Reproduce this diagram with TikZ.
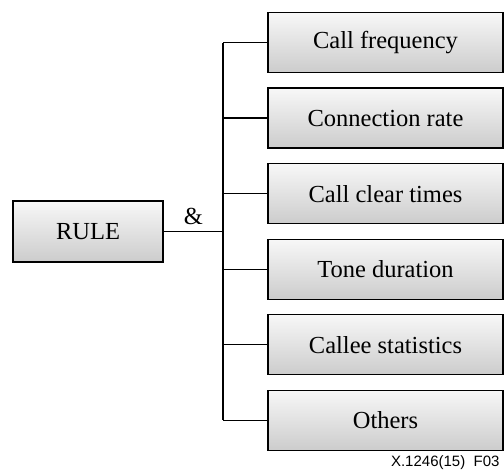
\documentclass[tikz,border=0pt]{standalone}
\usepackage{fontspec}
\setmainfont{Liberation Serif}
\newfontfamily\tagfont{Liberation Sans}
\usetikzlibrary{positioning}
\definecolor{boxtop}{gray}{0.97}
\definecolor{boxbot}{gray}{0.80}
\tikzstyle{block} = [rectangle, draw, line width=1.4pt, top color=boxtop, bottom color=boxbot, text centered, minimum width = 235pt, minimum height = 60pt, font=\fontsize{24.5}{29}\selectfont]
\tikzstyle{link} = [line width=1.3pt]

\begin{document}
\begin{tikzpicture}[x=1pt, y=1pt]
				\useasboundingbox (0,0) rectangle (504,-470);
				\node[block, minimum width=150pt, minimum height=61pt] (rule) at (88,-231.5) {RULE};
				\node[block] (freq) at (385.5,-42.6) {Call frequency};
				\node[block, below of=freq, node distance=75.55pt] (conn) {Connection rate};
				\node[block, below of=conn, node distance=75.55pt] (clear) {Call clear times};
				\node[block, below of=clear, node distance=75.55pt] (tone) {Tone duration};
				\node[block, below of=tone, node distance=75.55pt] (callee) {Callee statistics};
				\node[block, below of=callee, node distance=75.55pt] (others) {Others};
				\coordinate (fork) at (223,-231.5);
				\draw[link] (rule.east) -- node[above=3pt, font=\fontsize{24.5}{29}\selectfont] (and) {\&} (fork);
				\draw[link] (fork |- freq.west) -- (fork |- others.west);
				\foreach \n in {freq, conn, clear, tone, callee, others}
					\draw[link] (fork |- \n.west) -- (\n.west);
				\node[anchor=base east, font=\tagfont\fontsize{15}{18}\selectfont] (figid) at (503,-467) {X.1246(15)\ \ F03};
			\end{tikzpicture}
\end{document}
